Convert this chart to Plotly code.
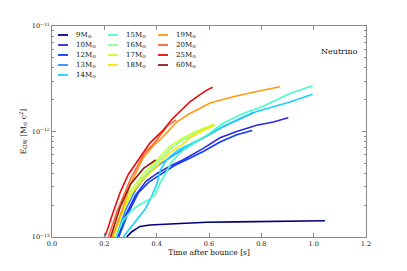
import plotly.graph_objects as go

# ---- data (time after bounce [s], log10 E_GW [Msun c^2]) ----
labels = ["9M<sub>⊙</sub>", "10M<sub>⊙</sub>", "12M<sub>⊙</sub>", "13M<sub>⊙</sub>", "14M<sub>⊙</sub>",
          "15M<sub>⊙</sub>", "16M<sub>⊙</sub>", "17M<sub>⊙</sub>", "18M<sub>⊙</sub>",
          "19M<sub>⊙</sub>", "20M<sub>⊙</sub>", "25M<sub>⊙</sub>", "60M<sub>⊙</sub>"]
colors = ["#00007f", "#2a2ae0", "#0a3cff", "#2c90ff", "#18d0ff",
          "#44ffc4", "#94ff8c", "#c4ff2c", "#ffe400",
          "#ff9a14", "#ff6430", "#ee0a0a", "#8e1c1c"]

t_9 = [0.285, 0.305, 0.336, 0.374, 0.451, 0.591, 0.7, 0.8, 0.9, 1.0, 1.043]
e_9 = [-13.0, -12.95, -12.90, -12.886, -12.877, -12.86, -12.857, -12.853, -12.85, -12.848, -12.846]

t_10 = [0.25, 0.28, 0.32, 0.36, 0.40, 0.45, 0.50, 0.578, 0.642, 0.706, 0.782, 0.846, 0.903]
e_10 = [-13.0, -12.8, -12.6, -12.47, -12.4, -12.33, -12.27, -12.16, -12.06, -12.0, -11.94, -11.91, -11.87]

t_12 = [0.255, 0.29, 0.33, 0.37, 0.42, 0.47, 0.52, 0.578, 0.642, 0.706, 0.765]
e_12 = [-13.0, -12.78, -12.58, -12.48, -12.4, -12.32, -12.26, -12.19, -12.10, -12.03, -11.99]

t_13 = [0.245, 0.28, 0.32, 0.36, 0.40, 0.45, 0.50, 0.55, 0.60, 0.65, 0.70, 0.769]
e_13 = [-13.0, -12.75, -12.55, -12.42, -12.33, -12.25, -12.17, -12.1, -12.03, -11.96, -11.9, -11.82]

t_14 = [0.272, 0.31, 0.355, 0.38, 0.40, 0.415, 0.44, 0.48, 0.527, 0.60, 0.655, 0.782, 0.909, 0.996]
e_14 = [-13.0, -12.88, -12.74, -12.62, -12.5, -12.36, -12.26, -12.18, -12.12, -12.03, -11.95, -11.81, -11.72, -11.647]

t_15 = [0.245, 0.27, 0.30, 0.33, 0.368, 0.394, 0.413, 0.432, 0.46, 0.50, 0.55, 0.60, 0.655, 0.731, 0.807, 0.909, 0.996]
e_15 = [-13.0, -12.85, -12.76, -12.7, -12.65, -12.6, -12.49, -12.4, -12.28, -12.18, -12.1, -12.02, -11.92, -11.83, -11.76, -11.64, -11.566]

t_16 = [0.235, 0.27, 0.30, 0.35, 0.40, 0.45, 0.50, 0.55, 0.60, 0.625]
e_16 = [-13.0, -12.75, -12.6, -12.43, -12.3, -12.17, -12.08, -12.02, -11.96, -11.94]

t_17 = [0.232, 0.27, 0.30, 0.35, 0.40, 0.45, 0.50, 0.55, 0.60, 0.62]
e_17 = [-13.0, -12.72, -12.56, -12.4, -12.27, -12.14, -12.06, -12.0, -11.95, -11.93]

t_18 = [0.235, 0.27, 0.30, 0.35, 0.40, 0.45, 0.50, 0.527, 0.57, 0.616]
e_18 = [-13.0, -12.76, -12.6, -12.45, -12.33, -12.2, -12.12, -12.06, -12.0, -11.945]

t_19 = [0.23, 0.26, 0.30, 0.348, 0.386, 0.432, 0.476, 0.527, 0.604, 0.692, 0.782, 0.871]
e_19 = [-13.0, -12.8, -12.5, -12.25, -12.14, -12.03, -11.91, -11.83, -11.73, -11.67, -11.62, -11.575]

t_20 = [0.215, 0.25, 0.30, 0.35, 0.40, 0.44, 0.474]
e_20 = [-13.0, -12.75, -12.45, -12.22, -12.08, -11.95, -11.89]

t_25 = [0.20, 0.209, 0.233, 0.26, 0.291, 0.336, 0.374, 0.424, 0.46, 0.489, 0.527, 0.566, 0.59, 0.614]
e_25 = [-13.0, -12.95, -12.77, -12.58, -12.41, -12.25, -12.11, -11.99, -11.88, -11.81, -11.72, -11.65, -11.61, -11.58]

t_60 = [0.224, 0.26, 0.30, 0.35, 0.396]
e_60 = [-13.0, -12.72, -12.5, -12.35, -12.27]

times = [t_9, t_10, t_12, t_13, t_14, t_15, t_16, t_17, t_18, t_19, t_20, t_25, t_60]
logE = [e_9, e_10, e_12, e_13, e_14, e_15, e_16, e_17, e_18, e_19, e_20, e_25, e_60]

x_ticks = [0.0, 0.2, 0.4, 0.6, 0.8, 1.0, 1.2]
x_ticklabels = ["0.0", "0.2", "0.4", "0.6", "0.8", "1.0", "1.2"]
y_ticks = [1e-13, 1e-12, 1e-11]
y_ticklabels = ["10<sup>−13</sup>", "10<sup>−12</sup>", "10<sup>−11</sup>"]
y_minor = [m * 10.0 ** p for p in (-13, -12) for m in range(2, 10)]

FONT = "DejaVu Serif"
TXT = "#111111"
fig = go.Figure()
for t, e, lab, c in zip(times, logE, labels, colors):
    fig.add_trace(go.Scatter(x=t, y=[10 ** v for v in e], mode="lines", name=lab,
                             line=dict(color=c, width=1.6), showlegend=False))

# manual 3-column legend (column-major, like the reference)
W, H = 407, 271
L, R, T, B = 52, 41, 26, 34
pw, ph = W - L - R, H - T - B
col_x = [58, 108, 158]
row_y0, row_dy = 35, 10
counts = [5, 4, 4]
idx = 0
for ci, n in enumerate(counts):
    for ri in range(n):
        px = col_x[ci]
        py = row_y0 + ri * row_dy
        xs = (px - L) / pw
        xe = (px + 10 - L) / pw
        yy = 1 - (py - T) / ph
        fig.add_shape(type="line", xref="paper", yref="paper", x0=xs, x1=xe, y0=yy, y1=yy,
                      line=dict(color=colors[idx], width=1.8))
        fig.add_annotation(xref="paper", yref="paper", x=(px + 16 - L) / pw, y=yy,
                           text=labels[idx], showarrow=False, xanchor="left", yanchor="middle",
                           font=dict(family=FONT, size=7, color=TXT))
        idx += 1

fig.add_annotation(xref="paper", yref="paper", x=(360 - L) / pw, y=1 - (51 - T) / ph,
                   text="Neutrino", showarrow=False, xanchor="right", yanchor="middle",
                   font=dict(family=FONT, size=8, color=TXT))

axis_common = dict(showline=True, linecolor="#8a8a8a", linewidth=1, mirror="allticks",
                   ticks="inside", tickcolor="#8a8a8a", showgrid=False, zeroline=False,
                   automargin=False, color=TXT,
                   tickfont=dict(family=FONT, size=6.5, color=TXT))
fig.update_xaxes(range=[0, 1.2], tickvals=x_ticks, ticktext=x_ticklabels, ticklen=4,
                 title=dict(text="Time after bounce [s]", font=dict(family=FONT, size=7.5, color=TXT),
                            standoff=2), **axis_common)
fig.update_yaxes(type="log", range=[-13, -11], tickvals=y_ticks, ticktext=y_ticklabels, ticklen=4,
                 minor=dict(tickvals=y_minor, ticks="inside", ticklen=2, tickcolor="#8a8a8a"),
                 title=dict(text="E<sub>GW</sub> [M<sub>⊙</sub> c<sup>2</sup>]",
                            font=dict(family=FONT, size=7.5, color=TXT), standoff=4),
                 **axis_common)
fig.update_layout(width=W, height=H, margin=dict(l=L, r=R, t=T, b=B, autoexpand=False),
                  paper_bgcolor="white", plot_bgcolor="white", showlegend=False,
                  font=dict(family=FONT, color=TXT))
fig.write_html("out.html", config={"displayModeBar": False},
               post_script="document.body.style.margin='0';document.body.style.padding='0';")
